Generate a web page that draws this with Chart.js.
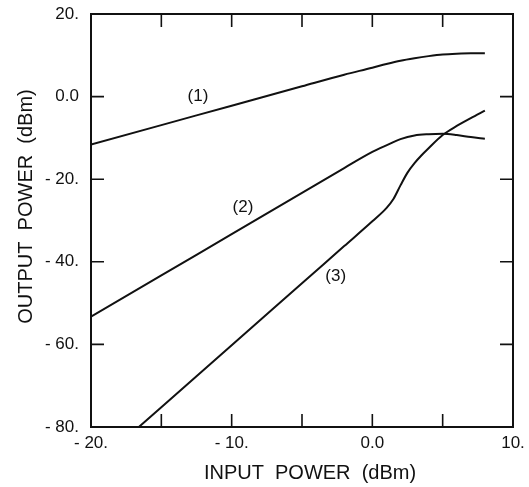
<!DOCTYPE html>
<html lang="en">
  <head>
    <meta charset="UTF-8" />
    <title>Output power vs input power</title>
    <script src="https://cdn.jsdelivr.net/npm/chart.js"></script>
    <style>
      html, body { margin: 0; padding: 0; background: #fff; }
      #wrap { width: 529px; height: 487px; }
    </style>
  </head>
  <body>
    <div id="wrap"><canvas id="myChart"></canvas></div>
    <script>
      // curve (1)
      const x1 = [-20, -15, -10, -5, -2, 0, 1, 2, 3, 4, 5, 6, 7, 8];
      const y1 = [-11.6, -6.9, -2.2, 2.5, 5.3, 7.0, 7.9, 8.7, 9.3, 9.8, 10.2, 10.4, 10.5, 10.5];
      // curve (2)
      const x2 = [-20, -15, -10, -5, -2, 0, 1, 2, 3, 4, 5, 6, 7, 8];
      const y2 = [-53.3, -43.3, -33.3, -23.3, -17.3, -13.4, -11.8, -10.3, -9.4, -9.1, -9.0, -9.3, -9.8, -10.2];
      // curve (3)
      const x3 = [-16.6, -15, -10, -5, -2, 0, 1, 1.5, 2, 2.5, 3, 3.5, 4, 5, 6, 7, 8];
      const y3 = [-80, -75.2, -60.2, -45.2, -36.2, -30.2, -27.0, -24.8, -21.5, -18.4, -16.1, -14.2, -12.5, -9.3, -7.1, -5.2, -3.4];

      const curveLabels = ["(1)", "(2)", "(3)"];
      const labelX = [-12.4, -9.2, -2.6];
      const labelY = [0, -26.9, -43.6];

      const xTicks = [-20, -15, -10, -5, 0, 5, 10];
      const yTicks = [-80, -60, -40, -20, 0, 20];

      const xTitle = "INPUT  POWER  (dBm)";
      const yTitle = "OUTPUT  POWER  (dBm)";

      const FONT = "'Liberation Sans', Arial, sans-serif";
      const fmt = (v) => (v < 0 ? "- " + Math.abs(v) + "." : v === 0 ? "0.0" : v + ".");
      const toPts = (xs, ys) => xs.map((x, i) => ({ x: x, y: ys[i] }));

      const line = (xs, ys) => ({
        data: toPts(xs, ys),
        borderColor: "#111",
        borderWidth: 2,
        pointRadius: 0,
        fill: false,
        cubicInterpolationMode: "monotone",
      });

      // frame, inward ticks, axis titles and curve numbers
      const framePlugin = {
        id: "frame",
        afterDraw(chart) {
          const ctx = chart.ctx;
          const a = chart.chartArea;
          const sx = chart.scales.x;
          const sy = chart.scales.y;
          ctx.save();
          ctx.strokeStyle = "#111";
          ctx.lineWidth = 2;
          ctx.strokeRect(a.left, a.top, a.right - a.left, a.bottom - a.top);
          ctx.lineWidth = 1.6;
          ctx.beginPath();
          xTicks.slice(1, -1).forEach((v) => {
            const px = sx.getPixelForValue(v);
            ctx.moveTo(px, a.bottom);
            ctx.lineTo(px, a.bottom - 13);
            ctx.moveTo(px, a.top);
            ctx.lineTo(px, a.top + 13);
          });
          yTicks.slice(1, -1).forEach((v) => {
            const py = sy.getPixelForValue(v);
            ctx.moveTo(a.left, py);
            ctx.lineTo(a.left + 13, py);
            ctx.moveTo(a.right, py);
            ctx.lineTo(a.right - 13, py);
          });
          ctx.stroke();

          ctx.fillStyle = "#111";
          ctx.textAlign = "center";
          ctx.textBaseline = "middle";
          ctx.font = "17px " + FONT;
          curveLabels.forEach((t, i) => {
            ctx.fillText(t, sx.getPixelForValue(labelX[i]), sy.getPixelForValue(labelY[i]));
          });

          ctx.font = "20px " + FONT;
          ctx.fillText(xTitle, (a.left + a.right) / 2 + 8, a.bottom + 46);
          ctx.translate(26, (a.top + a.bottom) / 2 - 14);
          ctx.rotate(-Math.PI / 2);
          ctx.fillText(yTitle, 0, 0);
          ctx.restore();
        },
      };

      const config = {
        type: "line",
        data: {
          datasets: [line(x1, y1), line(x2, y2), line(x3, y3)],
        },
        options: {
          responsive: true,
          maintainAspectRatio: false,
          animation: false,
          layout: { padding: { top: 14, right: 16, left: 0, bottom: 0 } },
          plugins: { legend: { display: false }, tooltip: { enabled: false } },
          scales: {
            x: {
              type: "linear",
              min: -20,
              max: 10,
              grid: { display: false, drawTicks: false },
              border: { display: false },
              afterBuildTicks: (s) => { s.ticks = xTicks.map((v) => ({ value: v })); },
              afterFit: (s) => {
                s.height = 60;
                s.paddingLeft = 0;
                s.paddingRight = 0;
              },
              ticks: {
                padding: 6,
                color: "#111",
                maxRotation: 0,
                autoSkip: false,
                font: { family: FONT, size: 17 },
                callback: (v) => (v % 10 === 0 ? fmt(v) : ""),
              },
            },
            y: {
              type: "linear",
              min: -80,
              max: 20,
              grid: { display: false, drawTicks: false },
              border: { display: false },
              afterBuildTicks: (s) => { s.ticks = yTicks.map((v) => ({ value: v })); },
              afterFit: (s) => {
                s.width = 91;
                s.paddingTop = 0;
                s.paddingBottom = 0;
              },
              ticks: {
                padding: 12,
                color: "#111",
                autoSkip: false,
                font: { family: FONT, size: 17 },
                callback: (v) => fmt(v),
              },
            },
          },
        },
        plugins: [framePlugin],
      };

      const myChart = new Chart(document.getElementById("myChart"), config);
    </script>
  </body>
</html>
